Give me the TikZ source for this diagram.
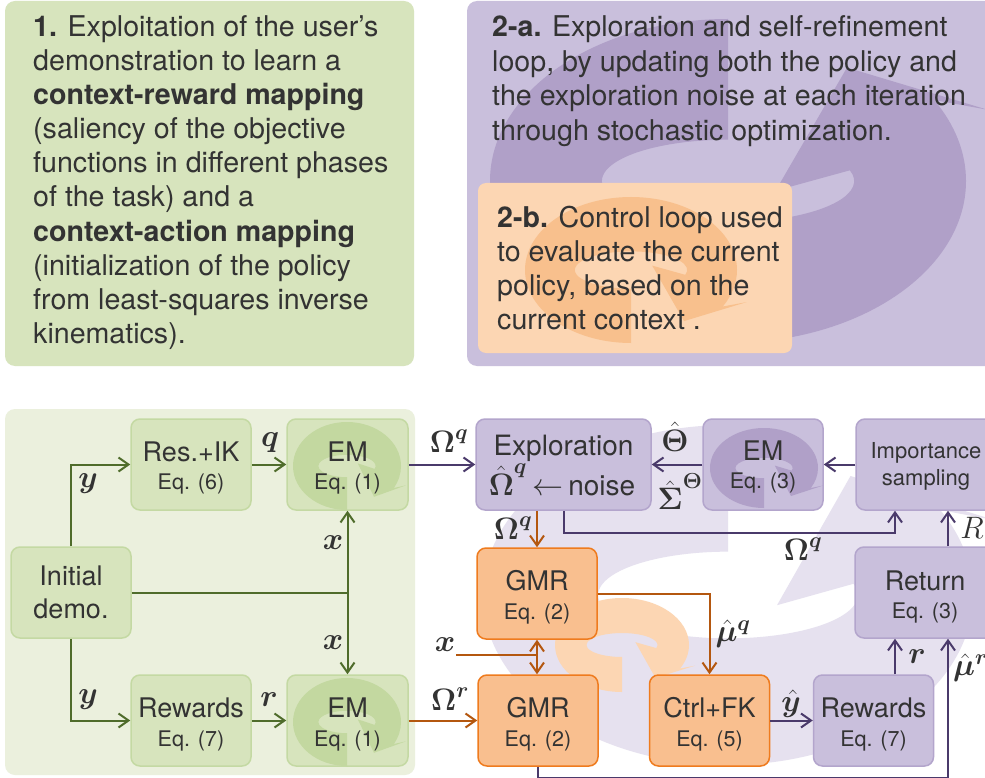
\RequirePackage{fix-cm}
\documentclass[tikz,border=0pt]{standalone}
\usepackage{amsmath}
\usepackage{bm}
\usepackage{fontspec}
\setmainfont{TeX Gyre Heros}
\usetikzlibrary{arrows.meta}
\definecolor{txtc}{HTML}{333333}
\definecolor{gfill}{HTML}{D7E4BD}
\definecolor{gdraw}{HTML}{C4D9A3}
\definecolor{gbg}{HTML}{EBF0DD}
\definecolor{gicon}{HTML}{C3D8A0}
\definecolor{gline}{HTML}{4F6C2B}
\definecolor{pfill}{HTML}{C9BFDC}
\definecolor{pdraw}{HTML}{B3A5CC}
\definecolor{picon}{HTML}{B0A0C8}
\definecolor{pbg}{HTML}{E6E1EF}
\definecolor{pline}{HTML}{4A3A6B}
\definecolor{ofill}{HTML}{F9BF8F}
\definecolor{odraw}{HTML}{EF7B1E}
\definecolor{olight}{HTML}{FCD6B3}
\definecolor{oicon}{HTML}{F8C08D}
\definecolor{oline}{HTML}{B4570F}
\newcommand{\cycicon}[6]{%
  \begin{scope}[shift={(#1,#2)},xscale=#3,yscale=#4*#5]
    \fill[#6] (0,1) arc[start angle=90,end angle=390,radius=1]
      -- (1.09,0.44) -- (0.5,0.70) -- (0.2,-0.06) -- (0.512,0.066)
      arc[start angle=15,end angle=-270,x radius=0.53,y radius=0.255] -- cycle;
  \end{scope}}
\begin{document}
\begin{tikzpicture}[x=1pt,y=1pt,
  every node/.style={text=txtc},
  para/.style={anchor=base west,inner sep=0pt,font=\fontsize{28.6}{34}\selectfont},
  lab/.style={anchor=base,inner sep=0pt,font=\fontsize{27}{33}\selectfont},
  eqt/.style={anchor=base,inner sep=0pt,font=\fontsize{21.5}{26}\selectfont},
  imt/.style={anchor=base,inner sep=0pt,font=\fontsize{22}{26}\selectfont},
  mlab/.style={inner sep=0pt,font=\fontsize{31}{36}\selectfont},
  boxbase/.style={rounded corners=9pt,line width=1.5pt,minimum height=91pt,minimum width=120pt,inner sep=0pt},
  gbox/.style={boxbase,draw=gdraw,fill=gfill},
  pbox/.style={boxbase,draw=pdraw,fill=pfill},
  obox/.style={boxbase,draw=odraw,fill=ofill},
  con/.style={line width=2pt},
  arr/.style={con,-{Straight Barb[length=10pt,width=14pt]}},
]
\useasboundingbox (0,0) rectangle (985,-778);
\clip (0,0) rectangle (985,-778);
\fill[white] (0,0) rectangle (985,-778);

% ---------- top panels ----------
\fill[gfill,rounded corners=10pt] (5,-1) rectangle (414,-366);
\fill[pfill,rounded corners=10pt] (467,-1) rectangle (1010,-366);
\cycicon{728}{-181}{238}{162}{1}{picon}
\fill[olight,rounded corners=8pt] (478,-183) rectangle (792,-353);
\cycicon{631}{-270}{106}{73}{-1}{oicon}

\node[para] (t1) at (33,-37) {\textbf{1.} Exploitation of the user’s};
\node[para] (t2) at (33,-71) {demonstration to learn a};
\node[para] (t3) at (33,-105) {\textbf{context-reward mapping}};
\node[para] (t4) at (33,-139) {(saliency of the objective};
\node[para] (t5) at (33,-173) {functions in different phases};
\node[para] (t6) at (33,-207) {of the task) and a};
\node[para] (t7) at (33,-241) {\textbf{context-action mapping}};
\node[para] (t8) at (33,-275) {(initialization of the policy};
\node[para] (t9) at (33,-309) {from least-squares inverse};
\node[para] (t10) at (33,-343) {kinematics).};

\node[para] (a1) at (492,-37) {\textbf{2-a.} Exploration and self-refinement};
\node[para] (a2) at (492,-71.5) {loop, by updating both the policy and};
\node[para] (a3) at (492,-106) {the exploration noise at each iteration};
\node[para] (a4) at (492,-140.5) {through stochastic optimization.};

\node[para] (b1) at (497,-227) {\textbf{2-b.} Control loop used};
\node[para] (b2) at (497,-261) {to evaluate the current};
\node[para] (b3) at (497,-295) {policy, based on the};
\node[para] (b4) at (497,-329) {current context .};

% ---------- bottom backgrounds ----------
\fill[gbg,rounded corners=10pt] (5,-409) rectangle (415,-775);
\cycicon{728}{-595}{245}{170}{1}{pbg}
\cycicon{622}{-645}{67}{47}{-1}{olight}

% ---------- boxes ----------
\node[gbox] (res) at (191,-464.5) {};
\node[gbox,minimum width=121pt] (em1) at (347.5,-464.5) {};
\node[gbox] (init) at (71,-592.5) {};
\node[gbox] (rew1) at (191,-720.5) {};
\node[gbox,minimum width=121pt] (em2) at (347.5,-720.5) {};
\node[pbox,minimum width=175pt] (expl) at (563.5,-464.5) {};
\node[pbox] (em3) at (763,-464.5) {};
\node[pbox,minimum width=140pt] (imp) at (926,-464.5) {};
\node[pbox,minimum width=140pt] (ret) at (925,-592.5) {};
\node[obox] (gmr1) at (537,-593.5) {};
\node[obox] (gmr2) at (538,-720.5) {};
\node[obox] (ctrl) at (709.5,-720.5) {};
\node[pbox] (rew2) at (873.5,-720.5) {};

\cycicon{347}{-466}{54}{44}{-1}{gicon}
\cycicon{347}{-722}{54}{44}{-1}{gicon}
\cycicon{764}{-468}{54}{40}{-1}{picon}

% ---------- box texts ----------
\node[lab] (res-a) at (191,-461) {Res.+IK};
\node[eqt] (res-b) at (191,-489.5) {Eq. (6)};
\node[lab] (em1-a) at (347.5,-461) {EM};
\node[eqt] (em1-b) at (347.5,-489.5) {Eq. (1)};
\node[lab] (init-a) at (71,-585) {Initial};
\node[lab] (init-b) at (71,-618) {demo.};
\node[lab] (rew1-a) at (191,-717.5) {Rewards};
\node[eqt] (rew1-b) at (191,-746) {Eq. (7)};
\node[lab] (em2-a) at (347.5,-717.5) {EM};
\node[eqt] (em2-b) at (347.5,-746) {Eq. (1)};
\node[lab,font=\fontsize{28}{33}\selectfont] (expl-a) at (563.5,-455) {Exploration};
\node[lab,font=\fontsize{28}{33}\selectfont] (expl-b) at (562,-495) {{\fontsize{31}{34}\selectfont$\hat{\bm{\Omega}}^{\bm{q}}\,{\leftarrow}\,$}noise};
\node[lab] (em3-a) at (763,-460) {EM};
\node[eqt] (em3-b) at (763,-488) {Eq. (3)};
\node[imt] (imp-a) at (926,-458) {Importance};
\node[imt] (imp-b) at (926,-485) {sampling};
\node[lab] (ret-a) at (925,-590) {Return};
\node[eqt] (ret-b) at (925,-618) {Eq. (3)};
\node[lab] (gmr1-a) at (537,-590) {GMR};
\node[eqt] (gmr1-b) at (537,-619.5) {Eq. (2)};
\node[lab] (gmr2-a) at (538,-717.5) {GMR};
\node[eqt] (gmr2-b) at (538,-746) {Eq. (2)};
\node[lab] (ctrl-a) at (709.5,-717.5) {Ctrl+FK};
\node[eqt] (ctrl-b) at (709.5,-746) {Eq. (5)};
\node[lab] (rew2-a) at (873.5,-717.5) {Rewards};
\node[eqt] (rew2-b) at (873.5,-746) {Eq. (7)};

% ---------- green connectors ----------
\draw[arr,gline] (init.north) |- (res.west);
\draw[arr,gline] (init.south) |- (rew1.west);
\draw[arr,gline] (res.east) -- (em1.west);
\draw[arr,gline] (rew1.east) -- (em2.west);
\draw[con,gline] (init.east) -- (init.east -| em1.south) coordinate (xj);
\draw[arr,gline] (xj) -- (em1.south);
\draw[arr,gline] (xj) -- (em2.north);

% ---------- purple connectors ----------
\draw[arr,pline] (em1.east) -- (expl.west);
\draw[arr,pline] (em3.west) -- (expl.east);
\draw[arr,pline] (imp.west) -- (em3.east);
\draw[arr,pline] (expl.south) -- ++(0,-22) -| ([xshift=-31pt]imp.south);
\draw[arr,pline] ([xshift=23pt]ret.north) -- ([xshift=22pt]imp.south);
\draw[arr,pline] (ctrl.east) -- (rew2.west);
\draw[arr,pline] ([xshift=21.5pt]rew2.north) -- ([xshift=21.5pt]rew2.north |- ret.south);
\draw[arr,pline] (gmr2.south) -- ++(0,-11) -| ([xshift=23pt]ret.south);

% ---------- orange connectors ----------
\draw[arr,oline] (gmr1.north |- expl.south) -- (gmr1.north);
\draw[arr,oline] (em2.east) -- (gmr2.west);
\draw[arr,oline] (gmr1.east) -| (ctrl.north);
\coordinate (xin) at (456,-655);
\draw[con,oline] (xin) -- (xin -| gmr1.south) coordinate (xj2);
\draw[arr,oline] (xj2) -- (gmr1.south);
\draw[arr,oline] (xj2) -- (xj2 |- gmr2.north);

% ---------- math labels ----------
\node[mlab] (lq) at (270,-443) {$\bm{q}$};
\node[mlab] (ly1) at (88,-484) {$\bm{y}$};
\node[mlab] (ly2) at (88,-700) {$\bm{y}$};
\node[mlab] (lr1) at (269,-700) {$\bm{r}$};
\node[mlab] (lx1) at (333,-543) {$\bm{x}$};
\node[mlab] (lx2) at (333,-643) {$\bm{x}$};
\node[mlab] (lOq1) at (449,-441) {$\bm{\Omega}^{\bm{q}}$};
\node[mlab] (lOr) at (450,-699) {$\bm{\Omega}^{\bm{r}}$};
\node[mlab] (lxin) at (445,-645) {$\bm{x}$};
\node[mlab] (lOq2) at (513,-528) {$\bm{\Omega}^{\bm{q}}$};
\node[mlab] (lOq3) at (803,-549) {$\bm{\Omega}^{\bm{q}}$};
\node[mlab] (lTh) at (675,-437) {$\hat{\bm{\Theta}}$};
\node[mlab] (lSg) at (680,-492) {$\hat{\bm{\Sigma}}^{\bm{\Theta}}$};
\node[mlab] (lR) at (972,-528) {$R$};
\node[mlab] (lmuq) at (733,-634) {$\hat{\bm{\mu}}^{\bm{q}}$};
\node[mlab] (lyh) at (791,-704) {$\hat{\bm{y}}$};
\node[mlab] (lr2) at (917,-657) {$\bm{r}$};
\node[mlab,anchor=west] (lmur) at (953,-668) {$\hat{\bm{\mu}}^{\bm{r}}$};
\end{tikzpicture}
\end{document}
